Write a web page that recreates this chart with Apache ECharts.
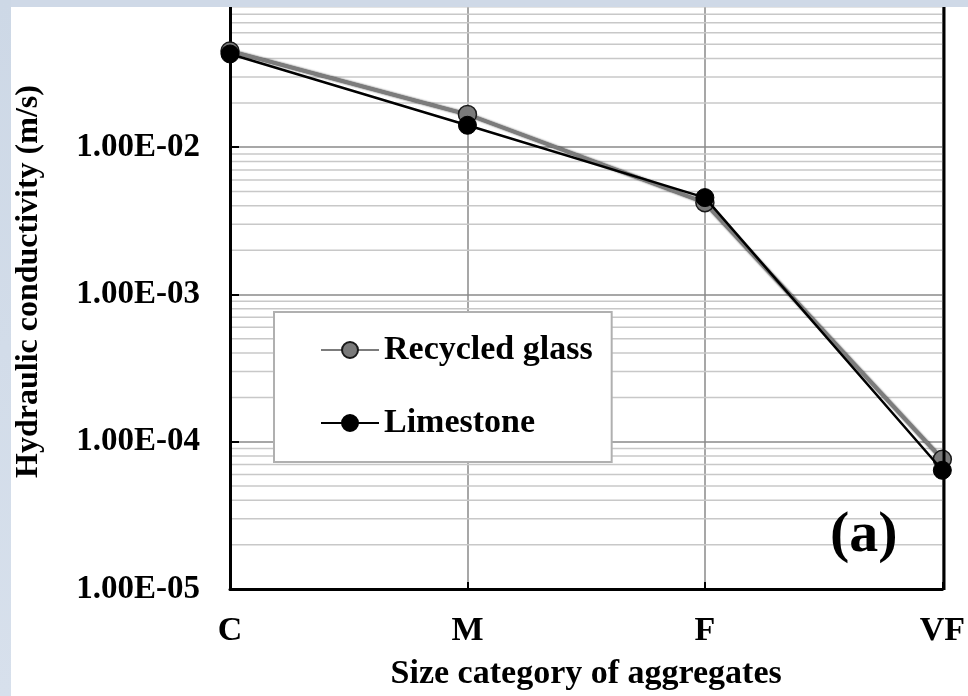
<!DOCTYPE html>
<html>
<head>
<meta charset="utf-8">
<script src="https://cdn.jsdelivr.net/npm/echarts@6/dist/echarts.min.js"></script>
<style>
html,body{margin:0;padding:0;background:#fff;}
#chart{width:968px;height:696px;}
</style>
</head>
<body>
<div id="chart"></div>
<script>
var categories = ['C', 'M', 'F', 'VF'];
var recycledGlass = [4.5e-2, 1.67e-2, 4.2e-3, 7.6e-5];
var limestone = [4.3e-2, 1.41e-2, 4.55e-3, 6.4e-5];
var yMin = 1e-5;
var yMax = 1e-1;
var decades = [1e-5, 1e-4, 1e-3, 1e-2];
var minorMultipliers = [2, 3, 4, 5, 6, 7, 8, 9];

var minorLines = [];
decades.forEach(function (d) {
  minorMultipliers.forEach(function (m) {
    minorLines.push([0, m * d]);
  });
});

var FONT = "'Liberation Serif', 'Times New Roman', serif";

function fmt(v) {
  if (v > 0.05) return '';
  var e = Math.round(Math.log10(v));
  var m = v / Math.pow(10, e);
  var es = Math.abs(e) < 10 ? '0' + Math.abs(e) : '' + Math.abs(e);
  return m.toFixed(2) + 'E' + (e < 0 ? '-' : '+') + es;
}

var chart = echarts.init(document.getElementById('chart'), null, { renderer: 'canvas' });
chart.setOption({
  animation: false,
  backgroundColor: '#ffffff',
  grid: { left: 230, right: 24, top: -5, bottom: 106, containLabel: false },
  legend: {
    show: true,
    orient: 'vertical',
    left: 274,
    top: 312,
    padding: [21, 19, 22, 46],
    itemGap: 39,
    itemWidth: 58,
    itemHeight: 20,
    backgroundColor: '#ffffff',
    borderColor: '#b0b0b0',
    borderWidth: 2,
    textStyle: { fontFamily: FONT, fontWeight: 'bold', fontSize: 34, color: '#000' },
    data: ['Recycled glass', 'Limestone']
  },
  xAxis: {
    type: 'category',
    data: categories,
    boundaryGap: false,
    axisLine: { show: true, lineStyle: { color: '#000', width: 3 } },
    axisTick: { show: true, inside: true, length: 7, alignWithLabel: true, lineStyle: { color: '#000', width: 2 } },
    axisLabel: { fontFamily: FONT, fontWeight: 'bold', fontSize: 34, color: '#000', margin: 25 },
    splitLine: { show: true, lineStyle: { color: '#8a8a8a', width: 1.5 } },
    name: 'Size category of aggregates',
    nameLocation: 'middle',
    nameGap: 68,
    nameTextStyle: { fontFamily: FONT, fontWeight: 'bold', fontSize: 34, color: '#000' }
  },
  yAxis: {
    type: 'log',
    logBase: 10,
    min: yMin,
    max: yMax,
    axisLine: { show: true, lineStyle: { color: '#000', width: 3 } },
    axisTick: { show: true, inside: true, length: 9, lineStyle: { color: '#000', width: 2 } },
    axisLabel: { fontFamily: FONT, fontWeight: 'bold', fontSize: 33, color: '#000', margin: 30, formatter: fmt },
    splitLine: { show: true, lineStyle: { color: '#8a8a8a', width: 1.5 } },
    name: 'Hydraulic conductivity (m/s)',
    nameLocation: 'middle',
    nameGap: 185,
    nameTextStyle: { fontFamily: FONT, fontWeight: 'bold', fontSize: 32, color: '#000', padding: [0, 0, 0, 26] }
  },
  graphic: [
    {
      type: 'rect', z: 100, left: 0, top: 0,
      shape: { width: 968, height: 7 },
      style: { fill: '#cfd9e7' }, silent: true
    },
    {
      type: 'rect', z: 100, left: 0, top: 0,
      shape: { width: 11, height: 696 },
      style: {
        fill: new echarts.graphic.LinearGradient(0, 0, 0, 1, [
          { offset: 0, color: '#cdd8e6' },
          { offset: 1, color: '#d7e0ec' }
        ])
      }, silent: true
    },
    {
      type: 'line', z: 90, silent: true,
      shape: { x1: 944, y1: 0, x2: 944, y2: 590 },
      style: { stroke: '#000', lineWidth: 3 }
    },
    {
      type: 'text', z: 90, left: 830, top: 507, silent: true,
      style: { text: '(a)', fontFamily: FONT, fontWeight: 'bold', fontSize: 58, fill: '#000' }
    }
  ],
  series: [
    {
      name: 'grid-minor',
      type: 'custom',
      silent: true,
      z: 0,
      data: minorLines,
      encode: { x: 0, y: 1 },
      renderItem: function (params, api) {
        var pt = api.coord([0, api.value(1)]);
        var cs = params.coordSys;
        return {
          type: 'line',
          shape: { x1: cs.x, y1: pt[1], x2: cs.x + cs.width, y2: pt[1] },
          style: { stroke: '#c8c8c8', lineWidth: 1.5 }
        };
      }
    },
    {
      name: 'Recycled glass',
      type: 'line',
      data: recycledGlass,
      z: 3,
      symbol: 'circle',
      symbolSize: 18,
      lineStyle: { color: '#7c7c7c', width: 3.5, shadowColor: 'rgba(0,0,0,0.85)', shadowBlur: 2 },
      itemStyle: { color: '#7a7a7a', borderColor: '#1a1a1a', borderWidth: 1.5 }
    },
    {
      name: 'Limestone',
      type: 'line',
      data: limestone,
      z: 4,
      symbol: 'circle',
      symbolSize: 18,
      lineStyle: { color: '#000000', width: 2.5 },
      itemStyle: { color: '#000000', borderColor: '#000', borderWidth: 1 }
    }
  ]
});
</script>
</body>
</html>
